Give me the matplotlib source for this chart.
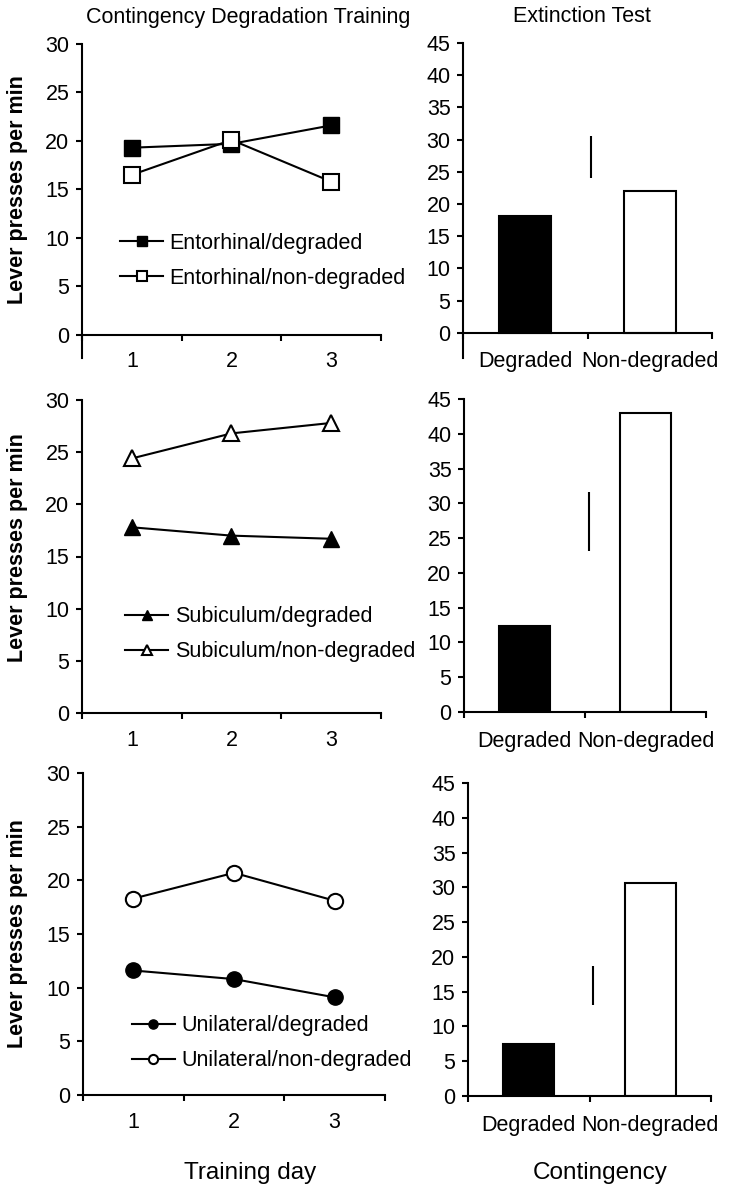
import matplotlib
matplotlib.use("Agg")
import matplotlib.pyplot as plt

plt.rcParams['font.family'] = ['Liberation Sans', 'DejaVu Sans']

# training data (lever presses per min, days 1-3)
days = [1, 2, 3]
ento_deg = [19.3, 19.7, 21.6]
ento_nondeg = [16.5, 20.1, 15.8]
sub_deg = [17.8, 17.0, 16.7]
sub_nondeg = [24.4, 26.8, 27.8]
uni_deg = [11.6, 10.8, 9.1]
uni_nondeg = [18.3, 20.7, 18.1]

# extinction test
contingency = ["Degraded", "Non-degraded"]
ento_test = [18.1, 22.0]
sub_test = [12.3, 43.0]
uni_test = [7.5, 30.6]
# LSD bars (low, high)
ento_lsd = [24.1, 30.6]
sub_lsd = [23.1, 31.7]
uni_lsd = [13.1, 18.7]

W, H = 740, 1199
fig = plt.figure(figsize=(W / 100, H / 100), dpi=100)


def px_axes(x0, x1, ytop, ybot):
    return fig.add_axes([x0 / W, 1 - ybot / H, (x1 - x0) / W, (ybot - ytop) / H])


def style(ax):
    for s in ['top', 'right']:
        ax.spines[s].set_visible(False)
    for s in ['left', 'bottom']:
        ax.spines[s].set_linewidth(1.5)
    ax.spines['bottom'].set_position(('data', 0))
    ax.tick_params(which='major', direction='out', length=4, width=1.5,
                   labelsize=15.5, pad=5)
    ax.tick_params(axis='x', which='minor', length=0, labelsize=15.5)


def line_panel(ax, deg, nondeg, marker, labels, ymin, leg_xy):
    ax.plot(days, deg, color='black', lw=1.5, marker=marker, ms=11,
            mfc='black', mec='black', label=labels[0])
    ax.plot(days, nondeg, color='black', lw=1.5, marker=marker, ms=11,
            mfc='white', mec='black', mew=1.5, label=labels[1])
    ax.set_xlim(0.5, 3.5)
    ax.set_ylim(ymin, 30)
    ax.set_yticks(range(0, 31, 5))
    ax.set_xticks([0.5, 1.5, 2.5, 3.5])
    ax.set_xticklabels([])
    ax.set_xticks(days, minor=True)
    ax.set_xticklabels([str(d) for d in days], minor=True)
    style(ax)
    ax.tick_params(axis='x', which='minor', pad=12)
    ax.legend(loc='center left', bbox_to_anchor=leg_xy, frameon=False,
              fontsize=15.5, markerscale=0.6, handlelength=2.0,
              handletextpad=0.3, labelspacing=0.65, borderpad=0,
              borderaxespad=0)


def bar_panel(ax, vals, lsd, ymin, pad):
    ax.bar([0.5, 1.5], vals, width=0.42, color=['black', 'white'],
           edgecolor='black', linewidth=1.5)
    ax.vlines(1.03, lsd[0], lsd[1], color='black', lw=1.5)
    ax.set_xlim(0, 2)
    ax.set_ylim(ymin, 45)
    ax.set_yticks(range(0, 46, 5))
    ax.set_xticks([0, 1, 2])
    ax.set_xticklabels([])
    ax.set_xticks([0.5, 1.5], minor=True)
    ax.set_xticklabels(contingency, minor=True)
    style(ax)
    ax.tick_params(axis='x', which='minor', pad=pad, labelsize=15.5)


# left column
ax1 = px_axes(82, 381, 44, 358)
line_panel(ax1, ento_deg, ento_nondeg, 's',
           ["Entorhinal/degraded", "Entorhinal/non-degraded"], -2.4, (0.127, 0.309))
ax2 = px_axes(82, 381, 400, 713)
line_panel(ax2, sub_deg, sub_nondeg, '^',
           ["Subiculum/degraded", "Subiculum/non-degraded"], 0, (0.144, 0.251))
ax3 = px_axes(83, 385, 773, 1095)
line_panel(ax3, uni_deg, uni_nondeg, 'o',
           ["Unilateral/degraded", "Unilateral/non-degraded"], 0, (0.162, 0.160))

# right column
ax4 = px_axes(463, 712, 43, 358)
bar_panel(ax4, ento_test, ento_lsd, -3.9, 13)
ax5 = px_axes(464, 706, 399, 712)
bar_panel(ax5, sub_test, sub_lsd, 0, 14)
ax6 = px_axes(468, 711, 783, 1096)
bar_panel(ax6, uni_test, uni_lsd, 0, 14)

# labels
for yc in [190, 548, 934]:
    fig.text(18 / W, 1 - yc / H, "Lever presses per min", rotation=90,
             fontsize=15.5, fontweight='bold', ha='center', va='center')
fig.text(248 / W, 1 - 17 / H, "Contingency Degradation Training",
         fontsize=15.5, ha='center', va='center')
fig.text(582 / W, 1 - 17 / H, "Extinction Test", fontsize=15.5,
         ha='center', va='center')
fig.text(250 / W, 1 - 1173 / H, "Training day", fontsize=17.5,
         ha='center', va='center')
fig.text(600 / W, 1 - 1173 / H, "Contingency", fontsize=17.5,
         ha='center', va='center')

fig.savefig("out.png", dpi=100)
